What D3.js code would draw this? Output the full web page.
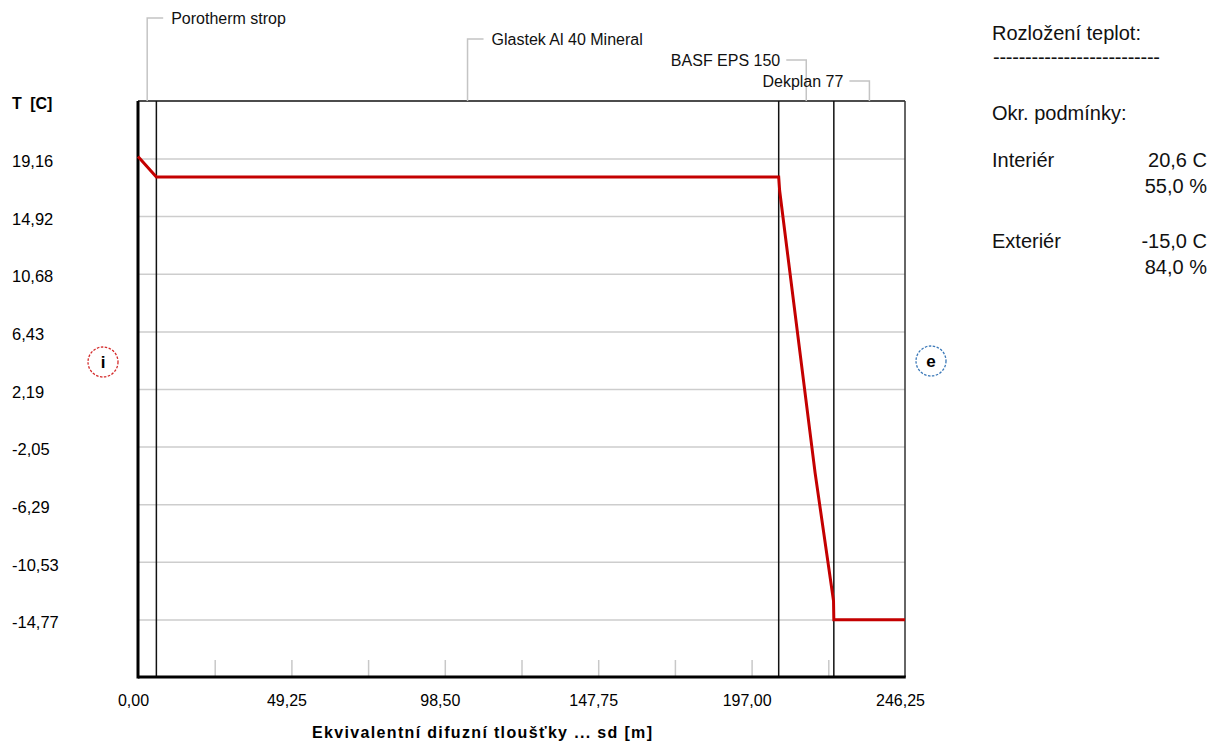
<!DOCTYPE html>
<html>
<head>
<meta charset="utf-8">
<script src="https://cdn.jsdelivr.net/npm/d3@7"></script>
<style>
  html, body { margin: 0; padding: 0; background: #fff; }
  svg { display: block; font-family: "Liberation Sans", Arial, sans-serif; }
</style>
</head>
<body>
<svg id="chart" width="1224" height="744"></svg>
<script>
// Layers of the construction and their equivalent diffusion thickness sd [m]
const layerNames = ["Porotherm strop", "Glastek Al 40 Mineral", "BASF EPS 150", "Dekplan 77"];
const layerSd = [5.9, 199.8, 17.7, 22.85];

// Temperature profile through the construction (sd [m] -> T [C])
const profileSd = [0, 5.9, 205.7, 206.0, 217.4, 223.3, 223.4, 246.25];
const profileT = [19.3, 17.8, 17.8, 16.8, -4.0, -13.4, -14.8, -14.8];

// Axis ticks
const xTickValues = [0, 49.25, 98.5, 147.75, 197.0, 246.25];
const xTickLabels = ["0,00", "49,25", "98,50", "147,75", "197,00", "246,25"];
const yTickLabels = ["19,16", "14,92", "10,68", "6,43", "2,19", "-2,05", "-6,29", "-10,53", "-14,77"];
const yDomain = [-19.01, 23.39];

// Boundary conditions
const conditionNames = ["Interiér", "Exteriér"];
const conditionTemp = ["20,6 C", "-15,0 C"];
const conditionRH = ["55,0 %", "84,0 %"];

const svg = d3.select("#chart");
const L = 138, R = 905, T = 101, B = 677;

const x = d3.scaleLinear().domain([0, d3.sum(layerSd)]).range([L, R]);
const y = d3.scaleLinear().domain(yDomain).range([B, T]);

const yTickValues = yTickLabels.map(s => +s.replace(",", "."));

// Horizontal grid lines
const grid = svg.append("g").attr("transform", `translate(${L},0)`)
  .call(d3.axisLeft(y).tickValues(yTickValues).tickSize(-(R - L)).tickFormat(""));
grid.select(".domain").remove();
grid.selectAll("line").attr("stroke", "#cdcdcd").attr("stroke-width", 1.5);

// Short inner ticks on the bottom axis
const minorStep = d3.sum(layerSd) / 10;
const minorTicks = d3.range(1, 10).map(i => i * minorStep);
const minor = svg.append("g").attr("transform", `translate(0,${B})`)
  .call(d3.axisBottom(x).tickValues(minorTicks).tickSize(-17).tickFormat(""));
minor.select(".domain").remove();
minor.selectAll("line").attr("stroke", "#c8c8c8").attr("stroke-width", 1.5);

// Layer boundaries
const bounds = d3.cumsum(layerSd);
svg.append("g").selectAll("line").data(bounds.slice(0, -1)).join("line")
  .attr("x1", d => x(d)).attr("x2", d => x(d))
  .attr("y1", T).attr("y2", B)
  .attr("stroke", "#111").attr("stroke-width", 1.5);

// Frame
svg.append("line").attr("x1", L).attr("x2", R).attr("y1", T).attr("y2", T)
  .attr("stroke", "#111").attr("stroke-width", 1.5);
svg.append("line").attr("x1", R).attr("x2", R).attr("y1", T).attr("y2", B)
  .attr("stroke", "#333").attr("stroke-width", 1.5);
svg.append("line").attr("x1", L).attr("x2", L).attr("y1", T).attr("y2", B + 1.5)
  .attr("stroke", "#000").attr("stroke-width", 3);
svg.append("line").attr("x1", L).attr("x2", R + 0.75).attr("y1", B).attr("y2", B)
  .attr("stroke", "#000").attr("stroke-width", 3);

// Temperature profile
const profile = profileSd.map((sd, i) => ({ sd, t: profileT[i] }));
svg.append("path").datum(profile)
  .attr("fill", "none").attr("stroke", "#c40000").attr("stroke-width", 3)
  .attr("stroke-linejoin", "miter")
  .attr("d", d3.line().x(d => x(d.sd)).y(d => y(d.t)));

// X axis labels
const xAxis = svg.append("g").attr("transform", `translate(-5,${B})`)
  .call(d3.axisBottom(x).tickValues(xTickValues).tickSize(0).tickPadding(18)
    .tickFormat((d, i) => xTickLabels[i]));
xAxis.select(".domain").remove();
xAxis.selectAll("text").attr("font-size", 16).attr("fill", "#000")
  .attr("font-family", "Liberation Sans, Arial, sans-serif");

// Y axis labels (left aligned)
const yAxis = svg.append("g").attr("transform", "translate(12,3)")
  .call(d3.axisLeft(y).tickValues(yTickValues).tickSize(0)
    .tickFormat((d, i) => yTickLabels[i]));
yAxis.select(".domain").remove();
yAxis.selectAll("text").attr("x", 0).attr("text-anchor", "start")
  .attr("font-size", 16.5).attr("fill", "#000")
  .attr("font-family", "Liberation Sans, Arial, sans-serif");

// Axis titles
svg.append("text").attr("x", 12).attr("y", 109)
  .attr("font-size", 16).attr("font-weight", "bold").attr("word-spacing", 4)
  .text("T [C]");
svg.append("text").attr("x", 312).attr("y", 738)
  .attr("font-size", 16).attr("font-weight", "bold")
  .attr("textLength", 340).attr("lengthAdjust", "spacing")
  .text("Ekvivalentní difuzní tloušťky ... sd [m]");

// Layer labels with leader lines above the plot
const centers = layerSd.map((d, i) => x(bounds[i] - d / 2));
const labels = svg.append("g");
layerNames.forEach((name, i) => {
  const cx = centers[i];
  const ly = 18 + i * 21;
  const right = cx + 220 < R;
  const hx = right ? cx + 16 : cx - 20;
  labels.append("path")
    .attr("d", `M${cx},${T} V${ly} H${hx}`)
    .attr("fill", "none").attr("stroke", "#c4c4c4").attr("stroke-width", 1.5);
  labels.append("text")
    .attr("x", right ? cx + 24 : cx - 26).attr("y", ly + 6)
    .attr("text-anchor", right ? "start" : "end")
    .attr("font-size", 16).attr("fill", "#111")
    .text(name);
});

// Interior / exterior markers
const markers = [
  { cx: 103, cy: 362, color: "#d42a2a", letter: "i" },
  { cx: 931, cy: 361, color: "#3a78b8", letter: "e" }
];
markers.forEach(m => {
  svg.append("circle").attr("cx", m.cx).attr("cy", m.cy).attr("r", 15)
    .attr("fill", "none").attr("stroke", m.color).attr("stroke-width", 1.3)
    .attr("stroke-dasharray", "2.5,1.5");
  svg.append("text").attr("x", m.cx).attr("y", m.cy + 6)
    .attr("text-anchor", "middle").attr("font-size", 17).attr("font-weight", "bold")
    .text(m.letter);
});

// Side panel
const side = svg.append("g").attr("font-size", 20).attr("fill", "#111");
side.append("text").attr("x", 992).attr("y", 40).text("Rozložení teplot:");
side.append("text").attr("x", 993).attr("y", 64)
  .attr("textLength", 167).attr("lengthAdjust", "spacing")
  .text("--------------------------");
side.append("text").attr("x", 992).attr("y", 120).text("Okr. podmínky:");
conditionNames.forEach((name, i) => {
  const by = 167 + i * 81;
  side.append("text").attr("x", 992).attr("y", by).text(name);
  side.append("text").attr("x", 1207).attr("y", by).attr("text-anchor", "end").text(conditionTemp[i]);
  side.append("text").attr("x", 1207).attr("y", by + 26).attr("text-anchor", "end").text(conditionRH[i]);
});
</script>
</body>
</html>
